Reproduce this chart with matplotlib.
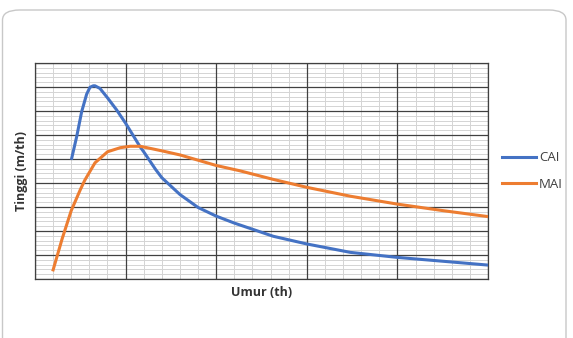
import matplotlib.pyplot as plt
from matplotlib.patches import FancyBboxPatch
from matplotlib.ticker import MultipleLocator

# umur (th) and tinggi values
cai_umur = [4.05, 4.6, 5.15, 5.7, 6.07, 6.44, 6.62, 7.17, 8, 9, 10, 11.6, 12, 13.3, 14, 16, 18, 20, 22, 26.3, 30, 34.8, 40, 44.7, 50]
cai_tinggi = [5.03, 5.93, 6.97, 7.7, 7.99, 8.05, 8.05, 7.94, 7.55, 7.05, 6.49, 5.51, 5.3, 4.57, 4.22, 3.52, 2.98, 2.62, 2.33, 1.78, 1.46, 1.11, 0.9, 0.75, 0.58]

mai_umur = [2, 3, 4, 5, 5.5, 6.62, 8, 9.4, 10.5, 11.6, 12, 14, 16, 18, 20, 22.6, 26.3, 30, 34.8, 40, 45, 50]
mai_tinggi = [0.38, 1.68, 2.85, 3.72, 4.12, 4.84, 5.3, 5.47, 5.53, 5.53, 5.5, 5.34, 5.17, 4.95, 4.73, 4.51, 4.15, 3.82, 3.45, 3.12, 2.85, 2.6]

plt.rcParams['font.family'] = ['Open Sans', 'DejaVu Sans']

fig = plt.figure(figsize=(5.73, 3.38), dpi=100)

# rounded chart border
border = FancyBboxPatch((2.5 / 573, -10 / 338), 563.5 / 573, 338 / 338,
                        boxstyle="round,pad=0,rounding_size=0.03",
                        transform=fig.transFigure, facecolor='none',
                        edgecolor='#c8c8c8', linewidth=1.0, zorder=0)
fig.patches.append(border)

pos = [35 / 573, 59 / 338, 453 / 573, 216 / 338]

# minor grid on a back axes so the major lines stay solid
bg = fig.add_axes(pos)
bg.set_xlim(0, 50)
bg.set_ylim(0, 9)
bg.xaxis.set_minor_locator(MultipleLocator(2))
bg.yaxis.set_minor_locator(MultipleLocator(0.2))
bg.grid(which='minor', color='#d4d4d4', lw=0.7)
bg.tick_params(which='both', length=0, labelbottom=False, labelleft=False)
for s in bg.spines.values():
    s.set_visible(False)

ax = fig.add_axes(pos)
ax.set_facecolor('none')

ax.plot(cai_umur, cai_tinggi, color='#4472C4', lw=2.2, label='CAI', zorder=3,
        solid_joinstyle='round')
ax.plot(mai_umur, mai_tinggi, color='#ED7D31', lw=2.2, label='MAI', zorder=3,
        solid_joinstyle='round')

ax.set_xlim(0, 50)
ax.set_ylim(0, 9)
ax.xaxis.set_major_locator(MultipleLocator(10))
ax.yaxis.set_major_locator(MultipleLocator(1))
ax.grid(which='major', color='#404040', lw=0.9)
ax.set_axisbelow(True)
ax.tick_params(which='both', length=0, labelbottom=False, labelleft=False)
for s in ax.spines.values():
    s.set_color('#404040')
    s.set_linewidth(0.9)

ax.set_xlabel('Umur (th)', fontsize=9, fontweight='bold', color='#333333', labelpad=5)
ax.set_ylabel('Tinggi (m/th)', fontsize=9, fontweight='bold', color='#333333', labelpad=5)

leg = ax.legend(loc='center left', bbox_to_anchor=(1.005, 0.5), frameon=False,
                fontsize=9.5, handlelength=2.6, handletextpad=0.2, labelspacing=1.0)
for t in leg.get_texts():
    t.set_color('#404040')

fig.savefig('out.png', dpi=100)
